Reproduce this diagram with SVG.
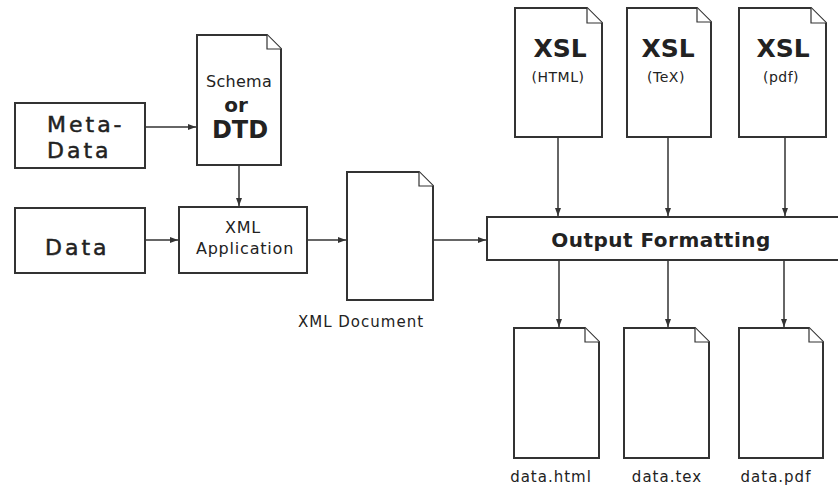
<svg xmlns="http://www.w3.org/2000/svg" width="838" height="487" viewBox="0 0 838 487">
<defs>
<style>
.box{fill:#fff;stroke:#333;stroke-width:2}
.doc{fill:#fff;stroke:#333;stroke-width:2;stroke-linejoin:miter}
.fold{fill:#fff;stroke:#333;stroke-width:1.2}
.conn{stroke:#333;stroke-width:1.5;fill:none;marker-end:url(#ah)}
text{font-family:"DejaVu Sans","Liberation Sans",sans-serif;fill:#222}
.big{font-size:22px;letter-spacing:3px;stroke:#222;stroke-width:0.5}
.mid{font-size:16px;letter-spacing:0.8px}
.sm{font-size:14px;letter-spacing:0.5px}
.xsl{font-size:25px;font-weight:bold;text-anchor:middle}
.lbl{font-size:15px;letter-spacing:1px;text-anchor:middle}
.c{text-anchor:middle}
</style>
<marker id="ah" viewBox="0 0 8 8" refX="8" refY="4" markerWidth="8" markerHeight="8" markerUnits="userSpaceOnUse" orient="auto">
<path d="M0,1 L8,4 L0,7 Z" fill="#333"/>
</marker>
</defs>
<rect width="838" height="487" fill="#fff"/>

<g id="connectors">
<line class="conn" x1="145" y1="127" x2="196" y2="127"/>
<line class="conn" x1="239" y1="165" x2="239" y2="206"/>
<line class="conn" x1="145" y1="240" x2="178" y2="240"/>
<line class="conn" x1="307" y1="240" x2="346" y2="240"/>
<line class="conn" x1="433" y1="240" x2="486" y2="240"/>
<line class="conn" x1="558" y1="137" x2="558" y2="216"/>
<line class="conn" x1="668" y1="137" x2="668" y2="216"/>
<line class="conn" x1="785" y1="137" x2="785" y2="216"/>
<line class="conn" x1="559" y1="261" x2="559" y2="327"/>
<line class="conn" x1="668" y1="261" x2="668" y2="327"/>
<line class="conn" x1="784" y1="261" x2="784" y2="327"/>
</g>

<g id="metadata">
<rect class="box" x="15" y="103" width="130" height="65"/>
<text class="big" x="47" y="132">Meta-</text>
<text class="big" x="47" y="158">Data</text>
</g>

<g id="data">
<rect class="box" x="15" y="208" width="130" height="65"/>
<text class="big" x="45" y="255">Data</text>
</g>

<g id="schema">
<path class="doc" d="M197,35 H267 L281,49 V165 H197 Z"/>
<path class="fold" d="M267,35 V49 H281"/>
<text class="c" x="239" y="87" font-size="16" letter-spacing="0.3">Schema</text>
<text class="c" x="236" y="112" font-size="20" font-weight="bold">or</text>
<text class="c" x="240" y="138" font-size="24" font-weight="bold">DTD</text>
</g>

<g id="xmlapp">
<rect class="box" x="179" y="207" width="128" height="66"/>
<text class="c mid" x="243" y="233">XML</text>
<text class="c mid" x="245" y="254">Application</text>
</g>

<g id="xmldoc">
<path class="doc" d="M347,172 H419 L433,186 V300 H347 Z"/>
<path class="fold" d="M419,172 V186 H433"/>
<text class="lbl" x="361" y="327">XML Document</text>
</g>

<g id="output">
<rect class="box" x="487" y="217" width="360" height="43"/>
<text class="c" x="661" y="247" font-size="20" font-weight="bold" letter-spacing="0.5">Output Formatting</text>
</g>

<g id="xsl-html">
<path class="doc" d="M515,8 H587 L602,23 V137 H515 Z"/>
<path class="fold" d="M587,8 V23 H602"/>
<text class="xsl" x="560" y="57">XSL</text>
<text class="c sm" x="558" y="82">(HTML)</text>
</g>

<g id="xsl-tex">
<path class="doc" d="M627,8 H697 L711,22 V137 H627 Z"/>
<path class="fold" d="M697,8 V22 H711"/>
<text class="xsl" x="668" y="57">XSL</text>
<text class="c sm" x="666" y="82">(TeX)</text>
</g>

<g id="xsl-pdf">
<path class="doc" d="M739,8 H811 L826,23 V137 H739 Z"/>
<path class="fold" d="M811,8 V23 H826"/>
<text class="xsl" x="783" y="57">XSL</text>
<text class="c sm" x="781" y="82">(pdf)</text>
</g>

<g id="out-html">
<path class="doc" d="M514,328 H585 L599,342 V458 H514 Z"/>
<path class="fold" d="M585,328 V342 H599"/>
<text class="lbl" x="551" y="482">data.html</text>
</g>

<g id="out-tex">
<path class="doc" d="M624,328 H695 L709,342 V458 H624 Z"/>
<path class="fold" d="M695,328 V342 H709"/>
<text class="lbl" x="667" y="482">data.tex</text>
</g>

<g id="out-pdf">
<path class="doc" d="M739,328 H809 L823,342 V458 H739 Z"/>
<path class="fold" d="M809,328 V342 H823"/>
<text class="lbl" x="776" y="482">data.pdf</text>
</g>
</svg>
